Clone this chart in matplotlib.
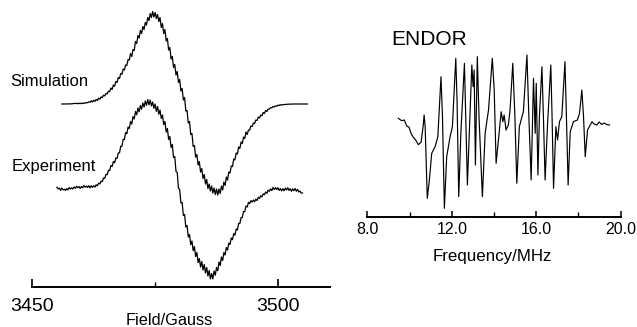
import numpy as np
import matplotlib
matplotlib.use("Agg")
import matplotlib.pyplot as plt

plt.rcParams['font.family'] = ['Liberation Sans', 'DejaVu Sans']

# EPR: field sweep limits (G) and first-derivative intensities, 0.25 G steps
sim_field_range = (3456.0, 3506.0)
sim_signal = [
    0, 0, 0, 0,  0, 0, 0, 0.1,  0.2, 0.3, 0.3, 0.4,  0.7, 0.2, 0.8, 0.3,
    0.9, 0.4, 1.1, 0.7,  1.5, 1.2, 2.1, 1.8,  3.2, 1.9, 3.8, 2.6,  4.6, 3.6, 5.8, 4.8,
    7.1, 6.3, 8.8, 8.1,  10.6, 10.1, 12.8, 12.4,  16, 14.5, 19, 17.7,  22.5, 21.5, 26.5, 25.5,
    30.5, 29.7, 35, 34,  39, 38.7, 44.5, 44,  50.5, 47.5, 54.5, 53.5,  62.5, 60.5, 68.5, 66,
    73.5, 70.5, 77.5, 74.5,  81.5, 79, 86.5, 83.5,  90.5, 86.5, 92.5, 87,  91.5, 85.5, 89.5, 82.5,
    86.5, 76.5, 80.5, 70.5,  74.5, 63, 65.5, 54,  56.5, 45, 47.5, 36.5,  39.5, 29, 32.5, 21.5,
    24.5, 13, 15.5, 4,  6.5, -7, -6.5, -19,  -17.5, -30.5, -29.5, -42.5,  -41.5, -53, -50.5, -61,
    -57.5, -68, -64.5, -74.5,  -70.5, -80, -75.5, -84.5,  -80, -87, -82, -89,  -84, -90.5, -85, -91,
    -85, -89.5, -82, -86,  -78, -81.5, -73, -76,  -68, -69, -62, -62.5,  -55, -56, -49, -50,
    -43, -44.5, -38, -39.5,  -33, -34.5, -28, -30.5,  -26, -26, -22, -22.5,  -19, -19.5, -16, -16.5,
    -13, -14, -11, -11.7,  -8.5, -9.5, -6.5, -7.5,  -5.1, -5.1, -3.6, -3.9,  -2.6, -3.0, -1.8, -2.2,
    -1.1, -1.6, -0.6, -1.2,  -0.7, -0.5, -0.4, -0.3,  -0.2, -0.15, -0.1, -0.05,  0, 0, 0, 0,
    0, 0, 0, 0,  0, 0, 0, 0,  0,
]

exp_field_range = (3455.0, 3505.0)
exp_signal = [
    0.8, -0.9, -0.1, -2.3,  0.0, -1.9, -1.2, -2.4,  -0.6, -1.9, 0.4, -0.9,  0.2, -1.0, 1.0, -0.3,
    1.7, 0.3, 1.5, -0.4,  1.5, 0.2, 2.5, 0.8,  2.0, 0.5, 2.3, 0.1,  2.3, 0.7, 2.2, 0.9,
    3.2, 2.2, 4.8, 4.0,  6.8, 6.4, 10.0, 9.7,  13.7, 13.3, 17.7, 17.5,  22.5, 21.5, 26.5, 25.2,
    30.0, 29.5, 35.0, 35.2,  41.8, 41.7, 48.8, 48.4,  55.5, 54.2, 61.0, 59.5,  66.5, 64.0, 71.5, 69.0,
    76.5, 73.2, 80.0, 76.2,  82.5, 78.7, 85.0, 81.0,  87.0, 82.7, 88.5, 83.2,  88.0, 82.0, 86.0, 79.7,
    84.0, 76.7, 81.5, 73.7,  78.0, 69.5, 73.0, 63.5,  66.5, 56.0, 59.5, 48.5,  51.5, 40.5, 43.5, 30.5,
    31.5, 16.5, 15.5, 0.0,  -1.5, -15.0, -14.5, -27.5,  -26.5, -39.0, -37.5, -49.0,  -46.5, -56.7, -53.0, -62.7,
    -58.5, -68.5, -64.5, -74.5,  -70.5, -79.0, -73.5, -82.0,  -76.5, -85.0, -79.5, -88.0,  -82.5, -91.0, -85.5, -91.0,
    -83.0, -87.2, -79.5, -82.7,  -74.0, -77.5, -69.0, -72.5,  -64.5, -67.0, -59.5, -62.0,  -55.0, -56.5, -50.0, -51.7,
    -45.5, -47.2, -41.0, -42.0,  -35.5, -35.5, -29.5, -29.5,  -23.5, -23.7, -18.0, -19.0,  -14.3, -15.7, -12.6, -14.1,
    -12.0, -13.7, -11.2, -12.5,  -9.4, -10.4, -7.7, -8.9,  -5.8, -6.8, -4.0, -5.3,  -2.2, -3.3, -0.9, -2.6,
    0.6, -1.6, 0.4, -1.5,  0.3, -2.4, -0.6, -2.9,  -0.7, -2.8, -0.1, -2.0,  0.2, -2.4, -0.7, -3.3,
    -0.8, -2.7, -0.5, -3.2,  -1.5, -4.0, -3.1, -5.1,  -5.0,
]

# ENDOR spectrum (MHz, arbitrary units)
endor_freq = [9.47, 9.63, 9.75, 9.87, 9.98, 10.02, 10.07, 10.18, 10.29, 10.42,
              10.55, 10.65, 10.69, 10.74, 10.84, 10.94, 11.05, 11.21, 11.34, 11.49,
              11.56, 11.65, 11.76, 11.92, 12.03, 12.19, 12.25, 12.33, 12.43, 12.60,
              12.68, 12.74, 12.83, 12.95, 13.01, 13.06, 13.12, 13.21, 13.29, 13.45,
              13.58, 13.74, 13.92, 14.01, 14.10, 14.21, 14.34, 14.42, 14.48, 14.57,
              14.68, 14.76, 14.89, 14.99, 15.08, 15.20, 15.39, 15.56, 15.65, 15.76,
              15.87, 15.95, 16.00, 16.08, 16.15, 16.27, 16.34, 16.42, 16.53, 16.69,
              16.75, 16.82, 16.93, 17.01, 17.10, 17.21, 17.36, 17.43, 17.51, 17.61,
              17.76, 17.95, 18.05, 18.16, 18.24, 18.32, 18.43, 18.64, 18.74, 18.87,
              18.98, 19.10, 19.22, 19.34, 19.47]
endor_int = [4.7, 2.3, 3, -3, -4.3, -7, -10.3, -14.3, -17, -21.7,
             -19, -2, 8, -3.7, -75.3, -57, -30.3, -23.7, -13.7, 46.3,
             6.3, -85.3, -33.7, -13.7, -3.7, 64.7, 23, -73.7, -10.3, 59.7,
             -10.3, -62, -10.3, 58, 36.3, 53, -42, 66.3, 6.3, -73.7,
             -10.3, 13, 64.7, 33, -40.3, -17, 11.3, 1.3, 8, -7,
             -2, 13, 59.7, 6.3, -60.3, -3.7, 11.3, 68, 6.3, -57,
             44.7, -10.3, 39.7, -52, 6.3, 56.3, 6.3, -57, -3.7, 58,
             6.3, -65.3, -3.7, -17, 1.3, 6.3, 61.3, 6.3, -62, -8.7,
             1.3, 3, 9.7, 33, 6.3, -33.7, -7, 1.3, -1, -2,
             1, -1.5, 0, -1.5, -2]

field_ticks = [3450, 3500]
freq_ticks = [8.0, 12.0, 16.0, 20.0]

W, H = 637, 327
fig = plt.figure(figsize=(W / 100, H / 100), dpi=100)


def px_axes(x0, x1, ytop, ybot):
    return fig.add_axes([x0 / W, (H - ybot) / H, (x1 - x0) / W, (ybot - ytop) / H])


def strip(ax):
    for s in ('left', 'right', 'top'):
        ax.spines[s].set_visible(False)
    ax.spines['bottom'].set_linewidth(1.4)
    ax.set_yticks([])
    ax.patch.set_alpha(0)


# ---- EPR panel ----
ax1 = px_axes(32.3, 330, 5, 287)
sim_field = np.linspace(*sim_field_range, len(sim_signal))
exp_field = np.linspace(*exp_field_range, len(exp_signal))
ax1.plot(sim_field, sim_signal, color='black', lw=0.9)
ax1.plot(exp_field, np.array(exp_signal) - 84, color='black', lw=0.9)
ax1.set_xlim(3450, 3510.6)
ax1.set_ylim(-183, 99)
strip(ax1)
ax1.set_xticks(field_ticks)
ax1.set_xticklabels([str(t) for t in field_ticks])
ax1.set_xticks([3475], minor=True)
ax1.tick_params(axis='x', which='major', direction='in', length=6, width=1.2,
                labelsize=14, pad=8)
ax1.tick_params(axis='x', which='minor', direction='in', length=3.5, width=1.0)
ax1.set_xlabel('Field/Gauss', fontsize=11.7)
ax1.xaxis.set_label_coords(0.461, -0.092)

fig.text(10 / W, (H - 86) / H, 'Simulation', fontsize=12, va='baseline', ha='left')
fig.text(11.7 / W, (H - 170.7) / H, 'Experiment', fontsize=12, va='baseline', ha='left')

# ---- ENDOR panel ----
ax2 = px_axes(367.3, 620.7, 50, 216.7)
ax2.plot(endor_freq, endor_int, color='black', lw=0.85)
ax2.set_xlim(8.0, 20.0)
ax2.set_ylim(-93.7, 73)
strip(ax2)
ax2.set_xticks(freq_ticks)
ax2.set_xticklabels(['%.1f' % t for t in freq_ticks])
ax2.set_xticks([10.0, 14.0, 18.0], minor=True)
ax2.tick_params(axis='x', which='major', direction='in', length=4, width=1.1,
                labelsize=11.5, pad=4)
ax2.tick_params(axis='x', which='minor', direction='in', length=3.5, width=1.0)
ax2.set_xlabel('Frequency/MHz', fontsize=12.2)
ax2.xaxis.set_label_coords(0.492, -0.195)

fig.text(391.7 / W, (H - 45) / H, 'ENDOR', fontsize=15, va='baseline', ha='left')

fig.savefig('out.png', dpi=100)
